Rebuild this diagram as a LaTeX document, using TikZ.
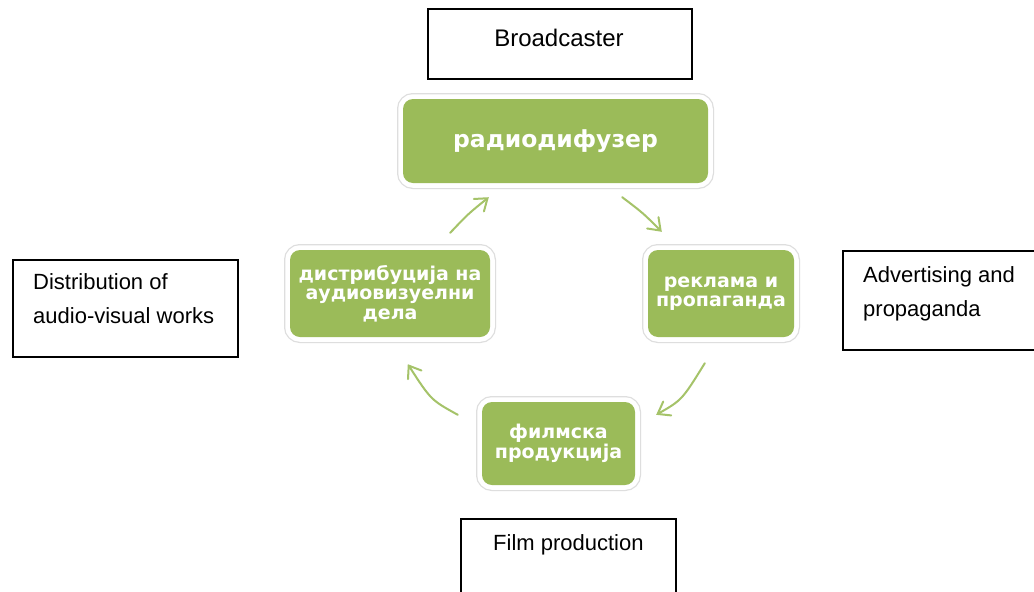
\documentclass[tikz,border=0pt]{standalone}
\usepackage{fontspec}
\setmainfont{Liberation Sans}
\newfontfamily\cyrfont{DejaVu Sans}
\usetikzlibrary{arrows.meta,calc}
\definecolor{olivefill}{RGB}{155,187,89}
\definecolor{arrowgreen}{RGB}{165,195,105}
\begin{document}
\begin{tikzpicture}[x=1pt,y=-1pt,
  gbox/.style={rounded corners=10pt, fill=olivefill, text=white, align=center, inner sep=0pt,
     preaction={draw=black!13, line width=12pt},
     preaction={draw=white, line width=9.5pt},
     font=\cyrfont\bfseries\fontsize{19}{19.5}\selectfont},
  ebox/.style={draw=black, line width=1.3pt, inner sep=0pt},
  etext/.style={inner sep=0pt, align=left, font=\fontsize{22}{34}\selectfont},
  cyc/.style={draw=arrowgreen, line width=2pt, line cap=round,
     -{Straight Barb[length=11pt,width=16pt,line cap=round]}}]
\useasboundingbox (0,0) rectangle (1034,592);
\fill[white] (0,0) rectangle (1034,592);

% English boxes
\node[ebox, minimum width=264, minimum height=70] (bc) at (560,44) {};
\node[ebox, minimum width=225, minimum height=97] (db) at (125.5,308.5) {};
\node[ebox, minimum width=197, minimum height=99] (ab) at (941.5,300.5) {};
\node[ebox, minimum width=215, minimum height=84] (fb) at (568.5,561) {};

\node[etext, anchor=base, font=\fontsize{24}{34}\selectfont] (bct) at (559,46) {Broadcaster};
\node[etext, anchor=north west] (dbt) at (33,273) {Distribution of\\audio-visual works};
\node[etext, anchor=north west] (abt) at (863,266) {Advertising and\\propaganda};
\node[etext, anchor=base west] (fbt) at (493,550) {Film production};

% green boxes
\node[gbox, minimum width=305, minimum height=84, font=\cyrfont\bfseries\fontsize{23.5}{24}\selectfont] (radio) at (555.5,141) {радиодифузер};
\node[gbox, minimum width=200, minimum height=87] (dist) at (390,293.5) {дистрибуција на\\аудиовизуелни\\дела};
\node[gbox, minimum width=146, minimum height=87] (rekl) at (721,293.5) {реклама и\\пропаганда};
\node[gbox, minimum width=153, minimum height=83] (film) at (558.5,443.5) {филмска\\продукција};

% arrow ends
\coordinate (a1s) at ($(dist.north east)+(-40,-17)$);
\coordinate (a1e) at ($(radio.south west)+(86,14)$);
\coordinate (a2s) at ($(radio.south east)+(-86,14)$);
\coordinate (a2e) at ($(rekl.north west)+(14,-18)$);
\coordinate (a3s) at ($(rekl.south west)+(57,26)$);
\coordinate (a3e) at ($(film.north east)+(21,13)$);
\coordinate (a4s) at ($(film.north west)+(-24,13)$);
\coordinate (a4e) at ($(dist.south west)+(118,27)$);

\draw[cyc] (a1s) .. controls (468,214) .. (a1e);
\draw[cyc] (a2s) .. controls (643,213) .. (a2e);
\draw[cyc] (a3s) .. controls (682,400) .. (a3e);
\draw[cyc] (a4s) .. controls (431,400) .. (a4e);
\end{tikzpicture}
\end{document}
